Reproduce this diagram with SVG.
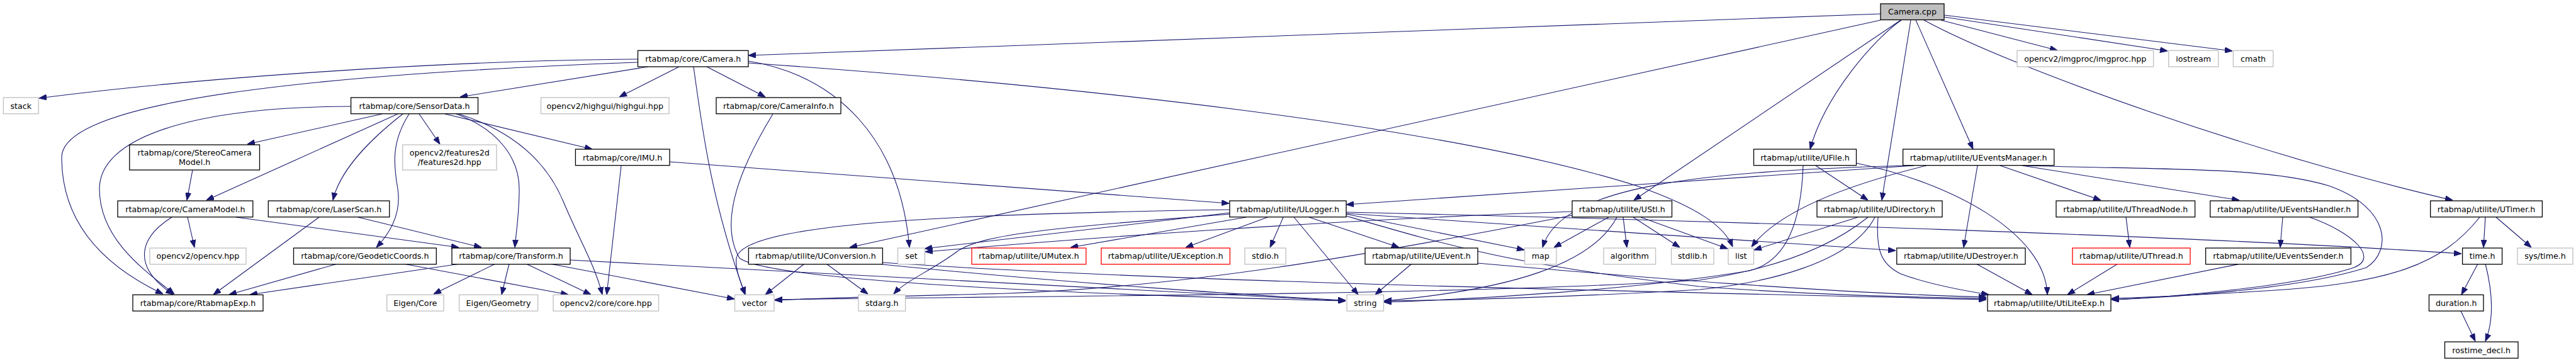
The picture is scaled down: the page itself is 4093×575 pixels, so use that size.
<svg xmlns="http://www.w3.org/2000/svg" width="4093" height="575" viewBox="0 0 4093 575">
<style>
rect{fill:#fff;stroke-width:1.3}
.k{stroke:#000}
.g{stroke:#bfbfbf}
.r{stroke:#ff0000}
.root{fill:#bfbfbf;stroke:#000}
text{font-family:"DejaVu Sans","Liberation Sans",sans-serif;font-size:12.7px;fill:#000;text-anchor:middle}
#edges path{fill:none;stroke:#191970;stroke-width:1.1;marker-end:url(#a)}
</style>
<defs>
<marker id="a" markerWidth="12" markerHeight="9" refX="12" refY="4.5" orient="auto" markerUnits="userSpaceOnUse"><path d="M0,0 L12,4.5 L0,9 z" fill="#191970" stroke="#191970" stroke-width="1"/></marker>
</defs>
<rect x="0" y="0" width="4093" height="575" style="fill:#fff;stroke:none"/>
<g id="edges">
<path d="M2988,22 L1189,88"/>
<path d="M2988,32 L1350,393"/>
<path d="M3020,32 L2596,318"/>
<path d="M3021,32 C2980,60 2900,150 2876,237"/>
<path d="M3036,32 L2990,318"/>
<path d="M3044,32 L3135,237"/>
<path d="M3057,32 C3200,110 3600,250 3897,318"/>
<path d="M3084,32 L3269,80"/>
<path d="M3089,27 L3444,81"/>
<path d="M3089,24 L3547,81"/>
<path d="M1013,94 C700,96 300,125 62,156"/>
<path d="M1013,99 C500,118 98,160 98,250 C98,350 160,420 259,467"/>
<path d="M1030,106 L731,154"/>
<path d="M1079,106 L984,154"/>
<path d="M1123,106 L1216,154"/>
<path d="M1102,106 C1115,200 1130,320 1184,468"/>
<path d="M1189,100 C1700,135 2300,200 2600,295 C2700,330 2740,360 2753,392"/>
<path d="M1189,97 C1330,120 1430,220 1445,393"/>
<path d="M557,169 C300,170 158,220 158,300 C158,380 230,430 277,467"/>
<path d="M607,181 L393,229"/>
<path d="M632,181 L328,318"/>
<path d="M640,181 C590,220 540,270 529,318"/>
<path d="M650,181 C622,225 625,260 632,300 C638,340 620,370 598,393"/>
<path d="M666,181 L699,229"/>
<path d="M707,181 L941,237"/>
<path d="M725,181 C790,205 825,250 825,300 C825,340 820,370 818,393"/>
<path d="M729,181 C820,210 870,260 895,320 C920,380 945,420 957,468"/>
<path d="M1228,181 C1180,260 1140,350 1175,410 C1230,450 1800,470 2138,478"/>
<path d="M987,263 L964,468"/>
<path d="M1064,257 L1953,323"/>
<path d="M306,270 L297,318"/>
<path d="M273,345 C225,375 205,420 275,468"/>
<path d="M298,345 L309,393"/>
<path d="M375,345 L729,393"/>
<path d="M507,345 L339,468"/>
<path d="M569,345 L765,393"/>
<path d="M536,419 L364,468"/>
<path d="M641,419 L903,468"/>
<path d="M731,419 L397,468"/>
<path d="M787,419 L689,467"/>
<path d="M809,419 L797,468"/>
<path d="M836,419 L939,468"/>
<path d="M874,419 L1167,475"/>
<path d="M906,413 L2138,478"/>
<path d="M1278,419 L1216,468"/>
<path d="M1313,419 L1379,467"/>
<path d="M1402,417 C1900,450 2600,462 3156,476"/>
<path d="M1402,420 C1700,450 2000,470 2138,477"/>
<path d="M1954,338 L1469,395"/>
<path d="M1954,333 C1500,340 1180,355 1170,410 C1168,430 1178,450 1184,468"/>
<path d="M1980,345 L1701,393"/>
<path d="M2014,345 L1884,393"/>
<path d="M2039,345 L2018,393"/>
<path d="M1954,340 C1700,360 1560,370 1520,400 C1480,430 1440,445 1420,467"/>
<path d="M2056,345 L2158,468"/>
<path d="M2080,345 L2223,393"/>
<path d="M2139,340 L2422,397"/>
<path d="M2139,337 C2700,350 3500,375 3911,403"/>
<path d="M2139,339 L3012,398"/>
<path d="M2139,343 C2300,390 2400,420 2700,455 C2900,470 3050,472 3156,474"/>
<path d="M2243,419 L2185,468"/>
<path d="M2348,418 C2600,440 2900,465 3156,472"/>
<path d="M2498,336 C2100,350 1700,380 1470,400"/>
<path d="M2498,342 C2200,400 1900,455 1600,466 C1450,470 1300,473 1231,477"/>
<path d="M2556,345 L2469,393"/>
<path d="M2569,345 C2530,420 2400,460 2199,478"/>
<path d="M2579,345 L2585,393"/>
<path d="M2595,345 L2669,393"/>
<path d="M2607,345 L2745,395"/>
<path d="M2865,263 C2862,350 2840,415 2780,430 C2600,460 2350,475 2199,480"/>
<path d="M2885,263 L2968,318"/>
<path d="M2949,259 C3100,290 3250,370 3253,468"/>
<path d="M3041,263 L2139,325"/>
<path d="M3030,263 C2700,272 2480,295 2451,393"/>
<path d="M3061,263 C2950,290 2830,330 2783,392"/>
<path d="M3142,263 L3120,393"/>
<path d="M3178,263 L3338,318"/>
<path d="M3213,263 L3558,318"/>
<path d="M3215,263 C3450,270 3600,265 3700,295 C3800,330 3800,400 3760,425 C3650,460 3450,472 3355,476"/>
<path d="M2952,345 L2787,397"/>
<path d="M2968,345 C2900,400 2800,430 2700,445 C2300,470 1600,470 1231,476"/>
<path d="M2979,345 C2940,420 2800,450 2700,460 C2500,472 2300,477 2199,478"/>
<path d="M2984,345 C2980,400 2990,420 3020,435 C3060,450 3110,460 3160,468"/>
<path d="M3140,419 L3229,468"/>
<path d="M3378,345 L3384,393"/>
<path d="M3365,419 L3285,468"/>
<path d="M3627,345 L3623,393"/>
<path d="M3670,345 C3740,370 3780,410 3740,425 C3650,455 3450,472 3355,476"/>
<path d="M3560,419 L3316,468"/>
<path d="M3940,345 C3880,420 3800,450 3600,462 C3500,468 3420,472 3355,474"/>
<path d="M3949,345 L3946,393"/>
<path d="M3966,345 L4022,393"/>
<path d="M3937,419 L3911,468"/>
<path d="M3949,419 C3962,470 3962,510 3949,542"/>
<path d="M3910,494 L3933,542"/>
</g>
<g id="n_camera_cpp"><rect class="root" x="2988" y="6" width="101" height="25.5"/><text x="3038.5" y="23.2">Camera.cpp</text></g>
<g id="n_camera_h"><rect class="k" x="1013.5" y="80.3" width="175.5" height="25.7"/><text x="1101.25" y="97.7">rtabmap/core/Camera.h</text></g>
<g id="n_imgproc"><rect class="g" x="3205" y="80.3" width="216.6" height="25.7"/><text x="3313.3" y="97.7">opencv2/imgproc/imgproc.hpp</text></g>
<g id="n_iostream"><rect class="g" x="3445.7" y="80.3" width="79" height="25.7"/><text x="3485.2" y="97.7">iostream</text></g>
<g id="n_cmath"><rect class="g" x="3548.4" y="80.3" width="63.4" height="25.7"/><text x="3580.1" y="97.7">cmath</text></g>
<g id="n_stack"><rect class="g" x="5.4" y="155" width="55.8" height="25.7"/><text x="33.3" y="172.5">stack</text></g>
<g id="n_sensordata"><rect class="k" x="557.6" y="155" width="201.9" height="25.7"/><text x="658.5" y="172.5">rtabmap/core/SensorData.h</text></g>
<g id="n_highgui"><rect class="g" x="859.5" y="155" width="203.5" height="25.7"/><text x="961.25" y="172.5">opencv2/highgui/highgui.hpp</text></g>
<g id="n_camerainfo"><rect class="k" x="1138" y="155" width="198" height="25.7"/><text x="1237" y="172.5">rtabmap/core/CameraInfo.h</text></g>
<g id="n_stereocameramodel"><rect class="k" x="205.8" y="230" width="206.7" height="40"/><text x="309.2" y="246.5">rtabmap/core/StereoCamera</text><text x="309.2" y="261.5">Model.h</text></g>
<g id="n_features2d"><rect class="g" x="639.7" y="230" width="149.3" height="40"/><text x="714.3" y="246.5">opencv2/features2d</text><text x="714.3" y="261.5">/features2d.hpp</text></g>
<g id="n_imu"><rect class="k" x="914.4" y="237" width="149.6" height="25.7"/><text x="989.2" y="254.5">rtabmap/core/IMU.h</text></g>
<g id="n_ufile"><rect class="k" x="2786.5" y="237" width="163" height="25.7"/><text x="2868" y="254.5">rtabmap/utilite/UFile.h</text></g>
<g id="n_ueventsmanager"><rect class="k" x="3023.6" y="237" width="240.2" height="25.7"/><text x="3143.7" y="254.5">rtabmap/utilite/UEventsManager.h</text></g>
<g id="n_cameramodel"><rect class="k" x="187" y="319" width="214.8" height="25.7"/><text x="294.4" y="336.5">rtabmap/core/CameraModel.h</text></g>
<g id="n_laserscan"><rect class="k" x="426.3" y="319" width="192.5" height="25.7"/><text x="522.5" y="336.5">rtabmap/core/LaserScan.h</text></g>
<g id="n_ulogger"><rect class="k" x="1953.8" y="319" width="185.2" height="25.7"/><text x="2046.4" y="336.5">rtabmap/utilite/ULogger.h</text></g>
<g id="n_ustl"><rect class="k" x="2498" y="319" width="158.5" height="25.7"/><text x="2577.25" y="336.5">rtabmap/utilite/UStl.h</text></g>
<g id="n_udirectory"><rect class="k" x="2887" y="319" width="199" height="25.7"/><text x="2986.5" y="336.5">rtabmap/utilite/UDirectory.h</text></g>
<g id="n_uthreadnode"><rect class="k" x="3267" y="319" width="220.6" height="25.7"/><text x="3377.3" y="336.5">rtabmap/utilite/UThreadNode.h</text></g>
<g id="n_ueventshandler"><rect class="k" x="3511.75" y="319" width="234.85" height="25.7"/><text x="3629.2" y="336.5">rtabmap/utilite/UEventsHandler.h</text></g>
<g id="n_utimer"><rect class="k" x="3861.7" y="319" width="177.7" height="25.7"/><text x="3950.5" y="336.5">rtabmap/utilite/UTimer.h</text></g>
<g id="n_opencv"><rect class="g" x="238" y="394" width="153" height="25.7"/><text x="314.5" y="411">opencv2/opencv.hpp</text></g>
<g id="n_geodetic"><rect class="k" x="466.5" y="394" width="226.8" height="25.7"/><text x="579.9" y="411">rtabmap/core/GeodeticCoords.h</text></g>
<g id="n_transform"><rect class="k" x="718" y="394" width="188" height="25.7"/><text x="812" y="411">rtabmap/core/Transform.h</text></g>
<g id="n_uconversion"><rect class="k" x="1189.4" y="394" width="213" height="25.7"/><text x="1295.9" y="411">rtabmap/utilite/UConversion.h</text></g>
<g id="n_set"><rect class="g" x="1426.5" y="394" width="42.9" height="25.7"/><text x="1448" y="411">set</text></g>
<g id="n_umutex"><rect class="r" x="1544" y="394" width="181.6" height="25.7"/><text x="1634.8" y="411">rtabmap/utilite/UMutex.h</text></g>
<g id="n_uexception"><rect class="r" x="1749.7" y="394" width="204.5" height="25.7"/><text x="1852" y="411">rtabmap/utilite/UException.h</text></g>
<g id="n_stdio"><rect class="g" x="1977.9" y="394" width="65.1" height="25.7"/><text x="2010.5" y="411">stdio.h</text></g>
<g id="n_uevent"><rect class="k" x="2169" y="394" width="179" height="25.7"/><text x="2258.5" y="411">rtabmap/utilite/UEvent.h</text></g>
<g id="n_map"><rect class="g" x="2422.6" y="394" width="50.4" height="25.7"/><text x="2447.8" y="411">map</text></g>
<g id="n_algorithm"><rect class="g" x="2548" y="394" width="82.6" height="25.7"/><text x="2589.3" y="411">algorithm</text></g>
<g id="n_stdlib"><rect class="g" x="2655.6" y="394" width="67.4" height="25.7"/><text x="2689.3" y="411">stdlib.h</text></g>
<g id="n_list"><rect class="g" x="2746" y="394" width="40.5" height="25.7"/><text x="2766.25" y="411">list</text></g>
<g id="n_udestroyer"><rect class="k" x="3013.75" y="394" width="204.25" height="25.7"/><text x="3115.9" y="411">rtabmap/utilite/UDestroyer.h</text></g>
<g id="n_uthread"><rect class="r" x="3293" y="394" width="187" height="25.7"/><text x="3386.5" y="411">rtabmap/utilite/UThread.h</text></g>
<g id="n_ueventssender"><rect class="k" x="3504.6" y="394" width="230.8" height="25.7"/><text x="3620" y="411">rtabmap/utilite/UEventsSender.h</text></g>
<g id="n_time"><rect class="k" x="3912.6" y="394" width="63" height="25.7"/><text x="3944.1" y="411">time.h</text></g>
<g id="n_systime"><rect class="g" x="4000" y="394" width="88" height="25.7"/><text x="4044" y="411">sys/time.h</text></g>
<g id="n_rtabmapexp"><rect class="k" x="211" y="468.3" width="207" height="25.7"/><text x="314.5" y="485.5">rtabmap/core/RtabmapExp.h</text></g>
<g id="n_eigencore"><rect class="g" x="614.7" y="468.3" width="90.3" height="25.7"/><text x="659.85" y="485.5">Eigen/Core</text></g>
<g id="n_eigengeometry"><rect class="g" x="729.6" y="468.3" width="125" height="25.7"/><text x="792.1" y="485.5">Eigen/Geometry</text></g>
<g id="n_corehpp"><rect class="g" x="879" y="468.3" width="167.5" height="25.7"/><text x="962.75" y="485.5">opencv2/core/core.hpp</text></g>
<g id="n_vector"><rect class="g" x="1167.5" y="468.3" width="62.5" height="25.7"/><text x="1198.75" y="485.5">vector</text></g>
<g id="n_stdarg"><rect class="g" x="1364" y="468.3" width="74.6" height="25.7"/><text x="1401.3" y="485.5">stdarg.h</text></g>
<g id="n_string"><rect class="g" x="2140" y="468.3" width="58.5" height="25.7"/><text x="2169.25" y="485.5">string</text></g>
<g id="n_utiliteexp"><rect class="k" x="3158" y="468.3" width="196" height="25.7"/><text x="3256" y="485.5">rtabmap/utilite/UtiLiteExp.h</text></g>
<g id="n_duration"><rect class="k" x="3859.5" y="468.3" width="86.5" height="25.7"/><text x="3902.75" y="485.5">duration.h</text></g>
<g id="n_rostime_decl"><rect class="k" x="3884.5" y="543" width="116.5" height="26"/><text x="3942.75" y="560.5">rostime_decl.h</text></g>
</svg>
